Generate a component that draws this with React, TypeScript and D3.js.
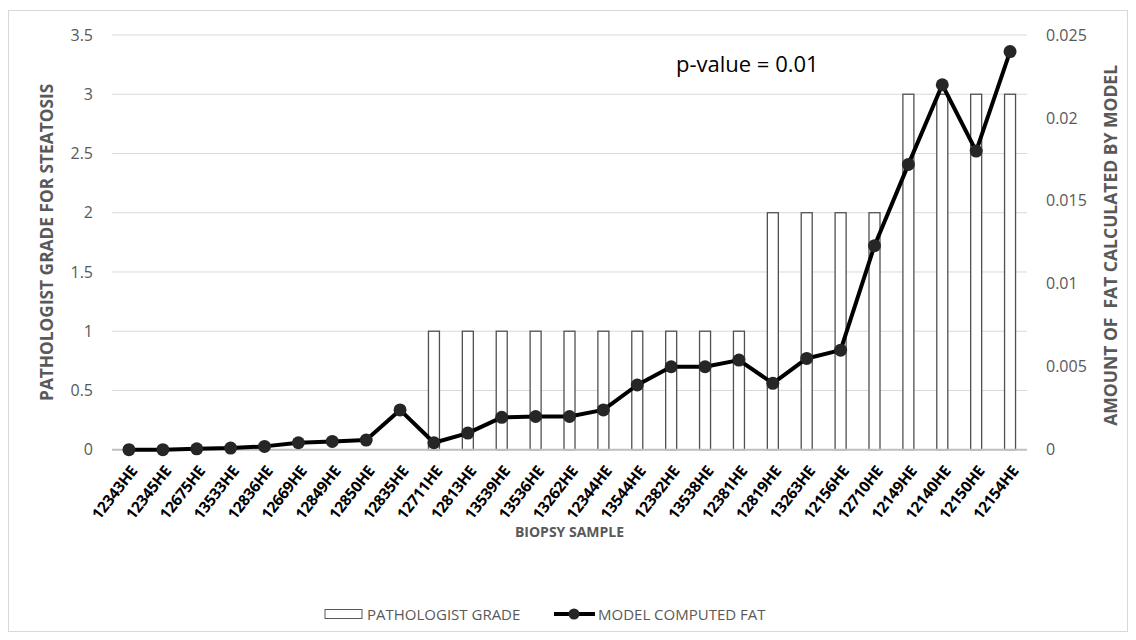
import React from "react";
import * as d3 from "d3";

const samples = ["12343HE","12345HE","12675HE","13533HE","12836HE","12669HE","12849HE","12850HE","12835HE","12711HE","12813HE","13539HE","13536HE","13262HE","12344HE","13544HE","12382HE","13538HE","12381HE","12819HE","13263HE","12156HE","12710HE","12149HE","12140HE","12150HE","12154HE"];
const pathologistGrade = [0,0,0,0,0,0,0,0,0,1,1,1,1,1,1,1,1,1,1,2,2,2,2,3,3,3,3];
const modelFat = [0,0,0.00005,0.0001,0.0002,0.00042,0.0005,0.00058,0.0024,0.00042,0.001,0.00195,0.002,0.002,0.0024,0.0039,0.005,0.005,0.0054,0.004,0.0055,0.006,0.0123,0.0172,0.022,0.018,0.024];
const leftTicks = [0,0.5,1,1.5,2,2.5,3,3.5];
const rightTicks = [0,0.005,0.01,0.015,0.02,0.025];

const W = 1136, H = 640;
const L = 112, R = 1027, T = 35, B = 449.7;
const FONT = "'Open Sans', sans-serif";
const GRAY = "#595959";

export default function App() {
  const x = d3.scaleBand<string>().domain(samples).range([L, R]).paddingInner(0).paddingOuter(0);
  const yL = d3.scaleLinear().domain([0, 3.5]).range([B, T]);
  const yR = d3.scaleLinear().domain([0, 0.025]).range([B, T]);
  const bw = 11;
  const cx = (s: string) => (x(s) as number) + x.bandwidth() / 2;
  const line = d3.line<number>().x((_, i) => cx(samples[i])).y((d) => yR(d));
  const fmtR = (v: number) => (v === 0 ? "0" : String(+v.toFixed(3)));

  return (
    <svg width={W} height={H} style={{ position: "absolute", left: 0, top: 0, background: "#fff" }} fontFamily={FONT}>
      <rect x={8.5} y={10.5} width={1119} height={621} fill="#fff" stroke="#d9d9d9" strokeWidth={1} />
      {leftTicks.slice(1).map((t) => (
        <line key={t} x1={L} x2={R} y1={yL(t)} y2={yL(t)} stroke="#d9d9d9" strokeWidth={1} />
      ))}
      {leftTicks.map((t) => (
        <text key={"l" + t} x={93} y={yL(t)} dy="0.35em" textAnchor="end" fontSize={16} fill={GRAY}>{t}</text>
      ))}
      {rightTicks.map((t) => (
        <text key={"r" + t} x={1046} y={yR(t)} dy="0.35em" textAnchor="start" fontSize={16} fill={GRAY}>{fmtR(t)}</text>
      ))}
      {samples.map((s, i) => pathologistGrade[i] > 0 ? (
        <rect key={s} x={cx(s) - bw / 2} y={yL(pathologistGrade[i])} width={bw} height={B - yL(pathologistGrade[i])} fill="#fff" stroke="#505050" strokeWidth={1.3} />
      ) : null)}
      <line x1={L} x2={R} y1={B} y2={B} stroke="#bfbfbf" strokeWidth={2} />
      <path d={line(modelFat) as string} fill="none" stroke="#000" strokeWidth={4} strokeLinejoin="round" />
      {modelFat.map((v, i) => (
        <circle key={i} cx={cx(samples[i])} cy={yR(v)} r={6.5} fill="#262626" />
      ))}
      {samples.map((s) => (
        <text key={"x" + s} transform={`translate(${cx(s) + 5},${B + 18}) rotate(-52)`} textAnchor="end" fontSize={15.5} fontWeight="bold" fill="#000" dy="0.35em" letterSpacing={-0.3}>{s}</text>
      ))}
      <text x={676} y={72} fontSize={22} fill="#000">p-value = 0.01</text>
      <text transform={`translate(53,${(T + B) / 2}) rotate(-90)`} textAnchor="middle" fontSize={17.3} fontWeight="bold" fill={GRAY}>PATHOLOGIST GRADE FOR STEATOSIS</text>
      <text transform={`translate(1117,${(T + B) / 2 + 3}) rotate(-90)`} textAnchor="middle" fontSize={17.5} fontWeight="bold" fill={GRAY} style={{ whiteSpace: "pre" }}>AMOUNT OF  FAT CALCULATED BY MODEL</text>
      <text x={(L + R) / 2} y={537} textAnchor="middle" fontSize={14} fontWeight="bold" fill={GRAY}>BIOPSY SAMPLE</text>
      <rect x={325} y={609.5} width={37} height={9} fill="#fff" stroke="#595959" strokeWidth={1} />
      <text x={367} y={620} fontSize={15} fill={GRAY}>PATHOLOGIST GRADE</text>
      <line x1={554} x2={595} y1={614} y2={614} stroke="#000" strokeWidth={4} />
      <circle cx={574} cy={614} r={5.5} fill="#262626" />
      <text x={598} y={620} fontSize={15} fill={GRAY}>MODEL COMPUTED FAT</text>
    </svg>
  );
}
